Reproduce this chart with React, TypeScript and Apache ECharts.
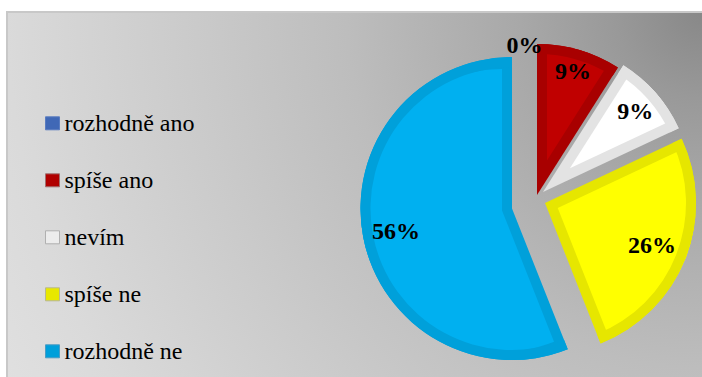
import React, { useEffect, useRef } from 'react';
import * as echarts from 'echarts';

// ---- data ----
const categories = ['rozhodně ano', 'spíše ano', 'nevím', 'spíše ne', 'rozhodně ne'];
const values = [0, 9, 9, 26, 56];

// ---- styles ----
const fillColors = ['#4472c4', '#c00000', '#ffffff', '#ffff00', '#00b0f0'];
const bandColors = ['#3a62ad', '#a80000', '#e3e3e3', '#e6e600', '#00a0da'];
const legendFill = ['#4068b6', '#b00000', '#ececec', '#e8e800', '#009fda'];
const legendBorder = ['#5a7cc0', '#a07070', '#b0b0b0', '#b8b890', '#4a9cc4'];

// ---- layout: apex of each exploded slice (px), outer radius, label distance ----
const sliceLayout = [
  { cx: 524.5, cy: 200, r: 151, labelR: 152 },
  { cx: 537, cy: 195, r: 151, labelR: 126 },
  { cx: 543, cy: 192, r: 150, labelR: 120 },
  { cx: 545, cy: 203, r: 151, labelR: 112 },
  { cx: 512, cy: 208.5, r: 151.5, labelR: 115 },
];
const BAND = 10;
const FONT = 'Liberation Serif';

function buildSeries() {
  const total = values.reduce((a, b) => a + b, 0);
  let cum = 0;
  const starts = values.map((v) => {
    const s = cum;
    cum += v;
    return s;
  });
  const base: any = {
    type: 'pie',
    startAngle: 90,
    clockwise: true,
    silent: true,
    avoidLabelOverlap: false,
    label: { show: false },
    labelLine: { show: false },
    emphasis: { disabled: true },
    itemStyle: { borderWidth: 0 },
  };
  const series: any[] = [];
  values.forEach((v, k) => {
    if (v <= 0) return;
    const L = sliceLayout[k];
    const a1 = (starts[k] / total) * 2 * Math.PI;
    const a2 = ((starts[k] + v) / total) * 2 * Math.PI;
    const mid = (a1 + a2) / 2;
    const half = (a2 - a1) / 2;
    const ux = Math.sin(mid);
    const uy = -Math.cos(mid);
    const s = BAND / Math.sin(half);
    const mk = (color: string) =>
      values.map((val, i) =>
        i === k
          ? { name: categories[i], value: val, itemStyle: { color, borderWidth: 0 } }
          : { name: `gap-${k}-${i}`, value: val, itemStyle: { color: 'rgba(0,0,0,0)', borderWidth: 0 } }
      );
    series.push({ ...base, center: [L.cx, L.cy], radius: [0, L.r], data: mk(bandColors[k]) });
    series.push({
      ...base,
      center: [L.cx + s * ux, L.cy + s * uy],
      radius: [0, L.r - s],
      data: mk(fillColors[k]),
    });
    series.push({ ...base, center: [L.cx, L.cy], radius: [L.r - BAND, L.r], data: mk(bandColors[k]) });
  });
  values.forEach((v, k) => {
    const L = sliceLayout[k];
    series.push({
      ...base,
      center: [L.cx, L.cy],
      radius: [0, 2 * L.labelR],
      label: {
        show: true,
        position: 'inside',
        formatter: (p: any) => `${p.value}%`,
        fontFamily: FONT,
        fontSize: 24,
        fontWeight: 'bold',
        color: '#000',
        textBorderWidth: 0,
      },
      data: values.map((val, i) => ({
        name: i === k ? categories[i] : `lbl-${k}-${i}`,
        value: val,
        itemStyle: { color: 'rgba(0,0,0,0)', borderWidth: 0 },
        label: { show: i === k },
      })),
    });
  });
  return series;
}

export default function App() {
  const ref = useRef<HTMLDivElement>(null);
  useEffect(() => {
    if (!ref.current) return;
    const chart = echarts.init(ref.current, null, { renderer: 'svg' });
    chart.setOption({
      animation: false,
      backgroundColor: '#ffffff',
      graphic: [
        {
          type: 'rect',
          z: -10,
          silent: true,
          shape: { x: 7, y: 12, width: 720, height: 400 },
          style: {
            fill: {
              type: 'radial',
              x: 702,
              y: 12,
              r: 790,
              global: true,
              colorStops: [
                { offset: 0, color: '#888888' },
                { offset: 0.11, color: '#999999' },
                { offset: 0.23, color: '#a8a8a8' },
                { offset: 0.45, color: '#bdbdbd' },
                { offset: 0.64, color: '#cacaca' },
                { offset: 0.88, color: '#dadada' },
                { offset: 1, color: '#e0e0e0' },
              ],
            },
            stroke: '#c8c8c8',
            lineWidth: 2,
          },
        },
      ],
      legend: {
        orient: 'vertical',
        left: 45,
        top: 111.3,
        padding: 0,
        itemGap: 33,
        itemWidth: 14,
        itemHeight: 13,
        icon: 'rect',
        selectedMode: false,
        textStyle: { fontFamily: FONT, fontSize: 24, color: '#000', lineHeight: 24 },
        data: categories.map((n, i) => ({
          name: n,
          itemStyle: { color: legendFill[i], borderColor: legendBorder[i], borderWidth: 1 },
        })),
      },
      series: buildSeries(),
    });
    return () => chart.dispose();
  }, []);
  return <div ref={ref} style={{ position: 'absolute', left: 0, top: 0, width: 702, height: 377 }} />;
}
